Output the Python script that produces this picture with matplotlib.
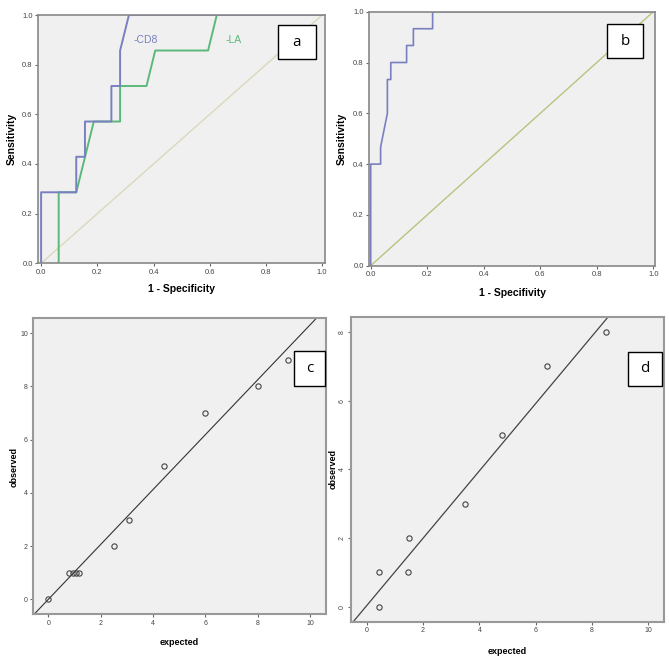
import matplotlib
matplotlib.use("Agg")
import matplotlib.pyplot as plt
from matplotlib.patches import Rectangle

plt.rcParams['font.family'] = ['Liberation Sans', 'DejaVu Sans']

W, H = 669, 658

# ---- data ----
# panel a: ROC curves
cd8_fpr = [0, 0, 0.125, 0.125, 0.156, 0.156, 0.25, 0.25, 0.281, 0.281, 0.3125, 1.0]
cd8_tpr = [0, 0.286, 0.286, 0.429, 0.429, 0.571, 0.571, 0.714, 0.714, 0.857, 1.0, 1.0]
la_fpr = [0.0625, 0.0625, 0.125, 0.1875, 0.281, 0.281, 0.375, 0.406, 0.594, 0.625, 1.0]
la_tpr = [0, 0.286, 0.286, 0.571, 0.571, 0.714, 0.714, 0.857, 0.857, 1.0, 1.0]

# panel b: ROC curve
b_fpr = [0, 0, 0.035, 0.035, 0.059, 0.059, 0.071, 0.071, 0.127, 0.127, 0.151, 0.151, 0.219, 0.219, 1.0]
b_tpr = [0, 0.4, 0.4, 0.467, 0.6, 0.733, 0.733, 0.8, 0.8, 0.867, 0.867, 0.933, 0.933, 1.0, 1.0]

ref_line = [0, 1]
roc_ticks = [0.0, 0.2, 0.4, 0.6, 0.8, 1.0]
roc_ticklabels = ['0.0', '0.2', '0.4', '0.6', '0.8', '1.0']

# panel c: calibration
c_expected = [0.0, 0.8, 0.95, 1.07, 1.17, 2.5, 3.1, 4.4, 6.0, 8.0, 9.15]
c_observed = [0, 1, 1, 1, 1, 2, 3, 5, 7, 8, 9]
c_line_x = [-0.51, 10.23]
c_line_y = [-0.53, 10.56]

# panel d: calibration
d_expected = [0.45, 0.45, 1.45, 1.5, 3.5, 4.8, 6.4, 8.5]
d_observed = [0, 1, 1, 2, 3, 5, 7, 8]
d_line_x = [-0.48, 8.58]
d_line_y = [-0.44, 8.45]

cal_xticks = [0, 2, 4, 6, 8, 10]
c_yticks = [0, 2, 4, 6, 8, 10]
d_yticks = [0, 2, 4, 6, 8]


def add_ax(fig, left, top, right, bottom):
    return fig.add_axes([left / W, 1 - bottom / H, (right - left) / W, (bottom - top) / H])


def style(ax, spine_color, spine_w):
    ax.set_facecolor('#f0f0f0')
    for s in ax.spines.values():
        s.set_color(spine_color)
        s.set_linewidth(spine_w)
    ax.tick_params(length=2.5, width=0.8, color='#666666', labelsize=5.5,
                   labelcolor='#444444', pad=1.5)


def label_box(fig, left, top, right, bottom, text):
    fig.add_artist(Rectangle((left / W, 1 - bottom / H), (right - left) / W, (bottom - top) / H,
                             transform=fig.transFigure, facecolor='white',
                             edgecolor='black', linewidth=1.0))
    fig.text((left + right) / 2 / W, 1 - (top + bottom) / 2 / H, text,
             ha='center', va='center', fontsize=11, family='Open Sans')


fig = plt.figure(figsize=(W / 100, H / 100), dpi=100)

# ---- panel a ----
ax = add_ax(fig, 38.3, 15, 325, 263.3)
style(ax, '#888888', 1.2)
ax.plot(ref_line, ref_line, color='#dcd8bc', lw=1.0)
ax.plot(la_fpr, la_tpr, color='#5cb87a', lw=1.4)
ax.plot(cd8_fpr, cd8_tpr, color='#7880c0', lw=1.4)
ax.set_xlim(-0.01, 1.01)
ax.set_ylim(0, 1)
ax.set_xticks(roc_ticks, roc_ticklabels)
ax.set_yticks(roc_ticks, roc_ticklabels)
ax.set_xlabel('1 - Specificity', fontsize=7.5, fontweight='bold', labelpad=6)
ax.set_ylabel('Sensitivity', fontsize=7.5, fontweight='bold', labelpad=4)
ax.text(0.33, 0.9, '-CD8', color='#7880c0', fontsize=7.5, ha='left', va='center')
ax.text(0.655, 0.9, '-LA', color='#5cb87a', fontsize=7.5, ha='left', va='center')
label_box(fig, 277.7, 25, 316, 59.3, 'a')

# ---- panel b ----
ax = add_ax(fig, 369.3, 11.7, 655, 265.7)
style(ax, '#888888', 1.2)
ax.plot(ref_line, ref_line, color='#b8c47e', lw=1.0)
ax.plot(b_fpr, b_tpr, color='#7880c0', lw=1.2)
ax.set_xlim(-0.005, 1.006)
ax.set_ylim(0, 1)
ax.set_xticks(roc_ticks, roc_ticklabels)
ax.set_yticks(roc_ticks, roc_ticklabels)
ax.set_xlabel('1 - Specifivity', fontsize=7.5, fontweight='bold', labelpad=7)
ax.set_ylabel('Sensitivity', fontsize=7.5, fontweight='bold', labelpad=5)
label_box(fig, 606.7, 24, 643.3, 58.3, 'b')

# ---- panel c ----
ax = add_ax(fig, 33.3, 318.3, 325.5, 614)
style(ax, '#999999', 1.5)
ax.plot(c_line_x, c_line_y, color='#333333', lw=0.8)
ax.plot(c_expected, c_observed, 'o', ms=3.8, mfc='none', mec='#444444', mew=0.8)
ax.set_xlim(-0.57, 10.58)
ax.set_ylim(-0.55, 10.56)
ax.set_xticks(cal_xticks)
ax.set_yticks(c_yticks)
ax.tick_params(labelsize=5)
ax.set_xlabel('expected', fontsize=6.5, fontweight='bold', labelpad=8)
fig.text(14 / W, 1 - 467 / H, 'observed', rotation=90, ha='center', va='center',
         fontsize=6.5, fontweight='bold')
label_box(fig, 294, 351, 325, 386, 'c')

# ---- panel d ----
ax = add_ax(fig, 351, 316.7, 664.3, 621.7)
style(ax, '#999999', 1.5)
ax.plot(d_line_x, d_line_y, color='#444444', lw=0.9)
ax.plot(d_expected, d_observed, 'o', ms=3.8, mfc='none', mec='#444444', mew=0.8)
ax.set_xlim(-0.56, 10.57)
ax.set_ylim(-0.44, 8.45)
ax.set_xticks(cal_xticks)
ax.set_yticks(d_yticks)
ax.tick_params(labelsize=5)
for t in ax.get_yticklabels():
    t.set_rotation(90)
    t.set_va('center')
ax.set_xlabel('expected', fontsize=6.5, fontweight='bold', labelpad=9)
fig.text(333 / W, 1 - 469 / H, 'observed', rotation=90, ha='center', va='center',
         fontsize=6.5, fontweight='bold')
label_box(fig, 628.3, 351.7, 661.7, 386, 'd')

fig.savefig('out.png', dpi=100, facecolor='white')
